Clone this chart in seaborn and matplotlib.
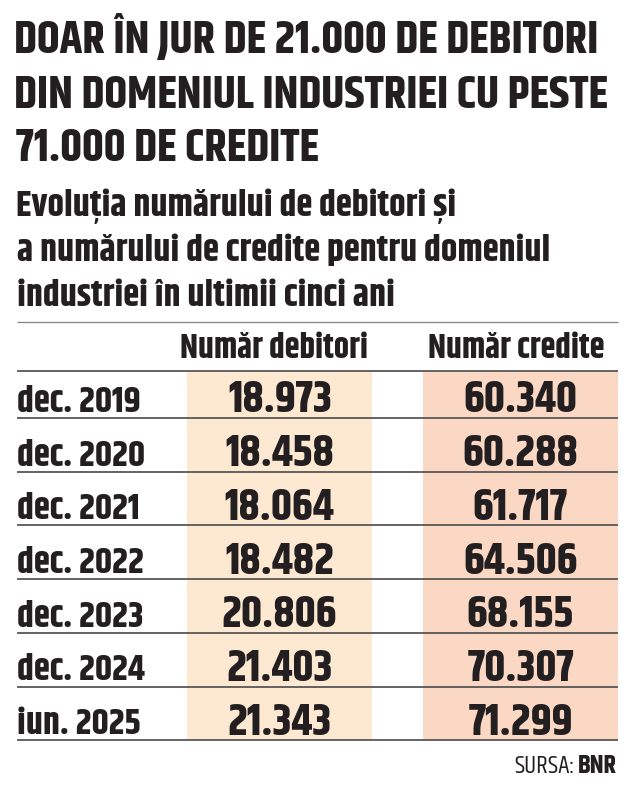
import numpy as np
import pandas as pd
import matplotlib
matplotlib.use("Agg")
import matplotlib.pyplot as plt
import seaborn as sns
from matplotlib import font_manager as fm
from matplotlib.font_manager import FontProperties
from matplotlib.textpath import TextPath
from matplotlib.ft2font import FT2Font

# ---------------- data ----------------
title_lines = ["DOAR ÎN JUR DE 21.000 DE DEBITORI",
               "DIN DOMENIUL INDUSTRIEI CU PESTE",
               "71.000 DE CREDITE"]
subtitle_lines = ["Evoluția numărului de debitori și",
                  "a numărului de credite pentru domeniul",
                  "industriei în ultimii cinci ani"]
periods = ["dec. 2019", "dec. 2020", "dec. 2021", "dec. 2022",
           "dec. 2023", "dec. 2024", "iun. 2025"]
debitori = [18973, 18458, 18064, 18482, 20806, 21403, 21343]
credite = [60340, 60288, 61717, 64506, 68155, 70307, 71299]
col_headers = ["Număr debitori", "Număr credite"]
source_label = "SURSA:"
source_name = "BNR"

df = pd.DataFrame({"perioada": periods, "debitori": debitori, "credite": credite})


def fmt(v):
    return f"{v:,}".replace(",", ".")


# ---------------- style ----------------
sns.set_theme(style="white")
plt.rcParams["font.family"] = ["DejaVu Sans"]

INK = "#231f20"
C1 = "#fde8d2"
C2 = "#fbd8c4"
LINE = "#575757"

# ---------------- font pick (closest to a bold condensed face) ----------------
need = set("".join(title_lines + subtitle_lines + periods + col_headers)
           + source_label + source_name + "0123456789.") - {" "}


def ext(s, prop):
    return TextPath((0, 0), s, size=100, prop=prop).get_extents()


def wnum(w):
    if isinstance(w, (int, float)):
        return int(w)
    return {"bold": 700, "semibold": 600, "demibold": 600, "heavy": 800,
            "extra bold": 800, "black": 900, "normal": 400, "regular": 400}.get(str(w).lower(), 400)


best, best_sc = None, 1e9
seen = set()
for f in fm.fontManager.ttflist:
    if f.fname in seen:
        continue
    seen.add(f.fname)
    if f.style != "normal" or "cjk" in f.fname.lower() or "CJK" in f.name:
        continue
    w = wnum(f.weight)
    if not (600 <= w <= 800):
        continue
    try:
        cmap = FT2Font(f.fname).get_charmap()
        if not all(ord(c) in cmap for c in need):
            continue
        prop = FontProperties(fname=f.fname)
        capH = ext("H", prop).height
        dig = ext("0", prop).height
        rt = ext(title_lines[0], prop).width / capH
        rn = ext(fmt(debitori[0]), prop).width / dig
        rl = ext(periods[0], prop).width / dig
    except Exception:
        continue
    sc = (abs(np.log(rt / 19.3)) + abs(np.log(rn / 3.16)) + abs(np.log(rl / 4.7))
          + abs(w - 700) / 400)
    if sc < best_sc:
        best, best_sc = f, sc

if best is not None:
    BOLD = FontProperties(fname=best.fname)
    reg = None
    for f in fm.fontManager.ttflist:
        if f.name == best.name and f.style == "normal" and wnum(f.weight) == 400 \
                and f.stretch == best.stretch:
            reg = f
            break
    REG = FontProperties(fname=reg.fname) if reg is not None else BOLD
else:
    BOLD = FontProperties(family="DejaVu Sans", weight="bold")
    REG = FontProperties(family="DejaVu Sans")

# ---------------- figure ----------------
W, H = 639, 793
fig = plt.figure(figsize=(W / 100, H / 100), dpi=100)
ax = fig.add_axes([0, 0, 1, 1])
ax.set_xlim(0, W)
ax.set_ylim(H, 0)
ax.axis("off")

# geometry (pixels)
left, right = 17, 618
col_spans = [(187, 372), (423, 618)]
top_rule = 322
header_line = 371
first_line = 418
row_h = 53.7
n = len(df)
row_lines = np.concatenate([[header_line], first_line + row_h * np.arange(n)])
baselines = row_lines[1:] - 6

# shaded columns
for (x0, x1), c in zip(col_spans, [C1, C2]):
    ax.bar([(x0 + x1) / 2], [row_lines[-1] - header_line], bottom=header_line,
           width=x1 - x0, color=c, edgecolor="none", zorder=1)

# rules
ax.hlines([top_rule], left, right, color="#8a8a8a", lw=1.0, zorder=3)
ax.hlines(row_lines, left, right, color=LINE, lw=1.3, zorder=3)


def size_for(s, prop, target_w, target_h, href, maxr):
    e = ext(s, prop)
    hh = ext(href, prop).height
    s_h = target_h * 72 / hh
    s_w = target_w * 72 / e.width
    if maxr is None:
        return s_w
    return min(s_h, s_w * maxr)


def put(s, prop, size, x, y, ha="left"):
    e = ext(s, prop)
    x0 = e.x0 * size / 72
    x1 = e.x1 * size / 72
    if ha == "left":
        ox = x - x0
    elif ha == "center":
        ox = x - (x0 + x1) / 2
    else:
        ox = x - x1
    p = prop.copy()
    p.set_size(size)
    return ax.text(ox, y, s, fontproperties=p, color=INK, ha="left",
                   va="baseline", zorder=4)


# title (fit to line width)
s_title = size_for(title_lines[0], BOLD, 580, 30, "H", None)
for s, y in zip(title_lines, [53.5, 108, 161]):
    put(s, BOLD, s_title, 16, y)

# subtitle (fit to line width)
s_sub = size_for(subtitle_lines[1], BOLD, 532, 26, "E", None)
for s, y in zip(subtitle_lines, [216.5, 261.5, 306]):
    put(s, BOLD, s_sub, 18, y)

# headers
s_head = size_for(col_headers[0], BOLD, 182, 24, "N", 1.02)
col_centers = [(a + b) / 2 for a, b in col_spans]
for s, cx, dx in zip(col_headers, col_centers, [-5.5, -3.5]):
    put(s, BOLD, s_head, cx + dx, 358, "center")

# row labels
s_lab = size_for(periods[0], BOLD, 122, 26, "0", 1.2)
for s, y in zip(df["perioada"], baselines):
    put(s, BOLD, s_lab, 18, y)

# numbers
s_num = size_for(fmt(debitori[0]), BOLD, 101, 32, "0", 1.25)
for col, cx in zip(["debitori", "credite"], col_centers):
    for v, y in zip(df[col], baselines):
        put(fmt(v), BOLD, s_num, cx, y + 0.5, "center")

# source
s_src = size_for(source_name, BOLD, 39, 18, "B", 1.1)
put(source_name, BOLD, s_src, 617, 773, "right")
bw = ext(source_name, BOLD).width * s_src / 72
put(source_label, REG, s_src, 617 - bw - 6, 773, "right")

fig.savefig("out.png", dpi=100, facecolor="white")
